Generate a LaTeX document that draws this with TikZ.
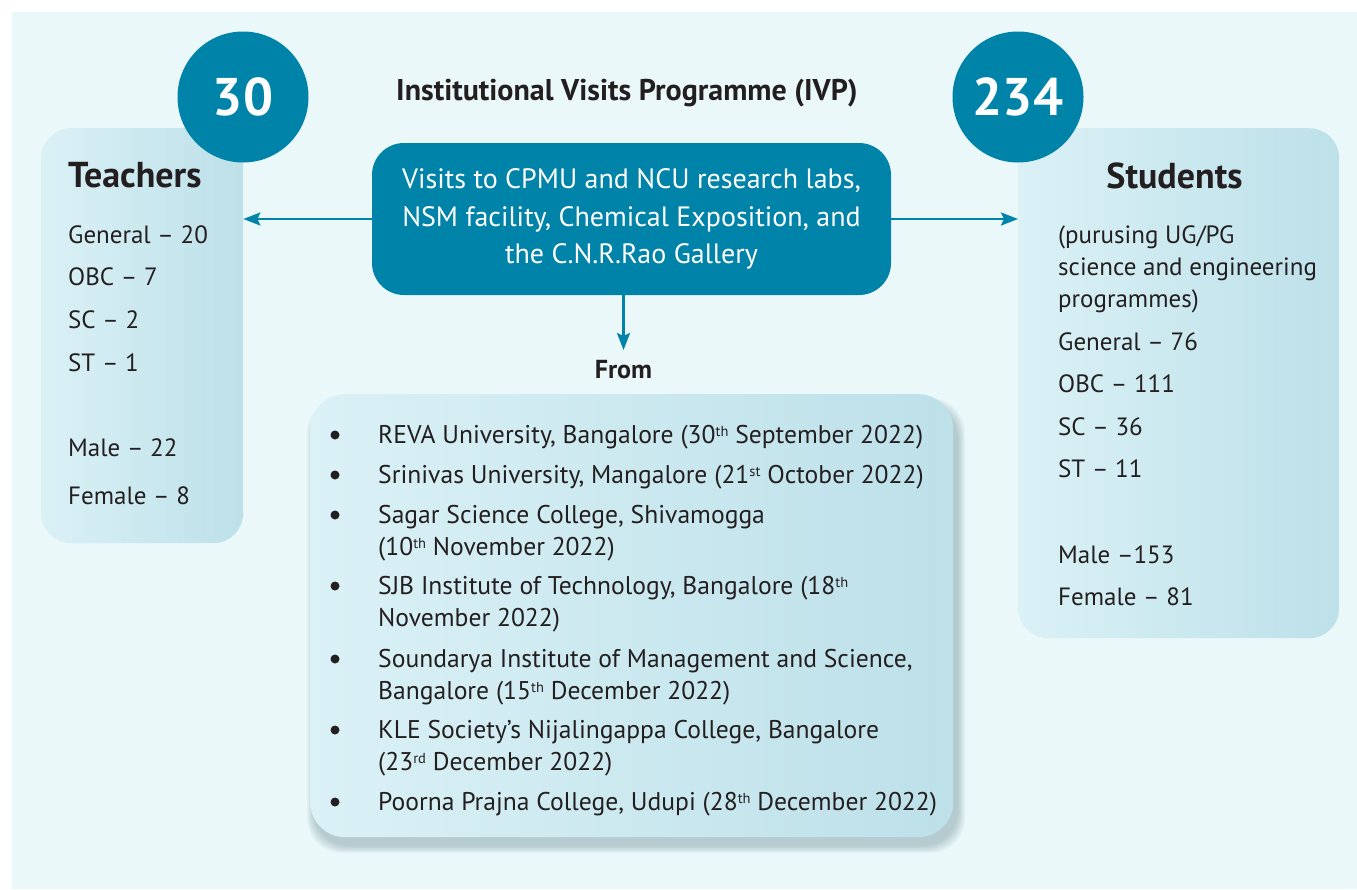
\documentclass[tikz,border=0pt]{standalone}
\usepackage{fontspec}
\setmainfont{PT Sans}
\usetikzlibrary{arrows.meta}
\definecolor{bgc}{HTML}{EAF8FA}
\definecolor{ivpteal}{HTML}{0083A8}
\definecolor{boxl}{HTML}{DAF1F6}
\definecolor{boxr}{HTML}{BDE0E9}
\definecolor{txt}{HTML}{231F20}
\definecolor{shadowc}{HTML}{5E7F88}
\newcommand\bodyfs{\fontsize{25}{32}\selectfont}
\newcommand\listfs{\fontsize{25.6}{32}\selectfont}
\newcommand\sups[1]{\raisebox{6.8pt}{\fontsize{14.5}{15}\selectfont #1}}
\tikzset{
  panel/.style={rounded corners=30pt, left color=boxl, right color=boxr, draw=none, inner sep=0pt, anchor=north west},
  numcirc/.style={circle, fill=ivpteal, minimum size=131pt, inner sep=0pt, text=white, font=\fontsize{53}{60}\selectfont\bfseries},
  mainbox/.style={rounded corners=32pt, fill=ivpteal, text=white, minimum width=519pt, minimum height=152pt, inner sep=0pt, align=center, font=\fontsize{28}{37.5}\selectfont},
  flow/.style={draw=ivpteal, line width=2.5pt, -{Stealth[length=17pt,width=13pt,inset=3pt]}},
  line/.style={anchor=base west, inner sep=0pt, text=txt, font=\bodyfs},
  item/.style={anchor=base west, inner sep=0pt, text=txt, font=\listfs},
  head/.style={anchor=base west, inner sep=0pt, text=txt, font=\fontsize{36}{40}\selectfont\bfseries},
  bul/.style={circle, fill=txt, minimum size=9pt, inner sep=0pt},
}
\begin{document}
\begin{tikzpicture}[x=1pt,y=-1pt]
\useasboundingbox (0,0) rectangle (1357,889);
\fill[bgc] (12,12) rectangle (1357,889);

% shadow of the list panel
\foreach \k in {0,...,7}
  \fill[shadowc, opacity=0.05, rounded corners=35pt] (314-\k,405-\k) rectangle (958+\k,846+\k);

% panels
\node[panel, minimum width=202pt, minimum height=415pt] (tbox) at (41,128) {};
\node[panel, minimum width=321pt, minimum height=510pt] (sbox) at (1018,128) {};
\node[panel, rounded corners=35pt, minimum width=643pt, minimum height=443pt] (lbox) at (310,394) {};

% number circles
\node[numcirc] (c30) at (243,97) {30};
\node[numcirc] (c234) at (1018,97) {234};

% title
\node[anchor=base, inner sep=0pt, text=txt, font=\fontsize{30}{34}\selectfont\bfseries] (title) at (627,100) {Institutional Visits Programme (IVP)};

% central box
\node[mainbox] (cbox) at (631.5,219) {Visits to CPMU and NCU research labs,\\NSM facility, Chemical Exposition, and\\the C.N.R.Rao Gallery};

% From
\node[anchor=base, inner sep=0pt, text=txt, font=\fontsize{26}{30}\selectfont\bfseries] (from) at (623.5,378) {From};
\coordinate (dtip) at (623.5,350);

% connectors
\draw[flow] (cbox.west) -- (cbox.west -| tbox.east);
\draw[flow] (cbox.east) -- (cbox.east -| sbox.west);
\draw[flow] (cbox.south -| dtip) -- (dtip);

% Teachers
\node[head] (thead) at (68,187) {Teachers};
\node[line] (t1) at (68,243) {General – 20};
\node[line] (t2) at (68,285) {OBC – 7};
\node[line] (t3) at (68,328) {SC – 2};
\node[line] (t4) at (68,371) {ST – 1};
\node[line] (t5) at (68,456) {Male – 22};
\node[line] (t6) at (68,504) {Female – 8};

% Students
\node[head, anchor=base] (shead) at (1174.5,188) {Students};
\node[line] (s1) at (1058,243) {(purusing UG/PG};
\node[line] (s2) at (1058,275) {science and engineering};
\node[line] (s3) at (1058,307) {programmes)};
\node[line] (s4) at (1058,350) {General – 76};
\node[line] (s5) at (1058,392) {OBC – 111};
\node[line] (s6) at (1058,435) {SC – 36};
\node[line] (s7) at (1058,477) {ST – 11};
\node[line] (s8) at (1058,563) {Male –153};
\node[line] (s9) at (1058,605) {Female – 81};

% list of institutions
\node[bul] (b1) at (335,435) {};
\node[item] (i1) at (378,443) {REVA University, Bangalore (30\sups{th} September 2022)};
\node[bul] (b2) at (335,475) {};
\node[item] (i2) at (378,483) {Srinivas University, Mangalore (21\sups{st} October 2022)};
\node[bul] (b3) at (335,515) {};
\node[item] (i3) at (378,523) {\vtop{\hbox{Sagar Science College, Shivamogga}\hbox{(10\sups{th} November 2022)}}};
\node[bul] (b4) at (335,586) {};
\node[item] (i4) at (378,594) {\vtop{\hbox{SJB Institute of Technology, Bangalore (18\sups{th}}\hbox{November 2022)}}};
\node[bul] (b5) at (335,659) {};
\node[item] (i5) at (378,667) {\vtop{\hbox{Soundarya Institute of Management and Science,}\hbox{Bangalore (15\sups{th} December 2022)}}};
\node[bul] (b6) at (335,730) {};
\node[item] (i6) at (378,738) {\vtop{\hbox{KLE Society’s Nijalingappa College, Bangalore}\hbox{(23\sups{rd} December 2022)}}};
\node[bul] (b7) at (335,802) {};
\node[item] (i7) at (378,810) {Poorna Prajna College, Udupi (28\sups{th} December 2022)};
\end{tikzpicture}
\end{document}
